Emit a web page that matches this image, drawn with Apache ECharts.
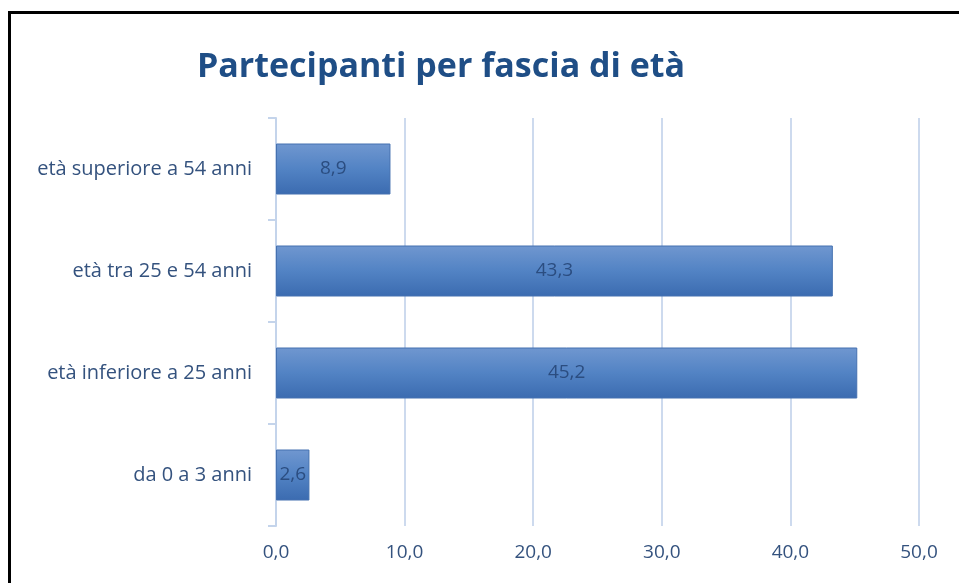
<!DOCTYPE html>
<html>
<head>
<meta charset="utf-8">
<title>Partecipanti per fascia di età</title>
<script src="https://cdn.jsdelivr.net/npm/echarts@6/dist/echarts.min.js"></script>
<style>
    html, body { margin: 0; padding: 0; background: #fff; }
    #frame {
        position: absolute;
        left: 8px;
        top: 11px;
        width: 951px;
        height: 572px;
        border-left: 3px solid #000;
        border-top: 3px solid #000;
    }
    #chart { position: absolute; left: 0; top: 0; width: 959px; height: 583px; }
</style>
</head>
<body>
<div id="frame"></div>
<div id="chart"></div>
<script>
'use strict';

var categories = ['da 0 a 3 anni', 'età inferiore a 25 anni', 'età tra 25 e 54 anni', 'età superiore a 54 anni'];
var values = [2.6, 45.2, 43.3, 8.9];
var xTicks = [0, 10, 20, 30, 40, 50];

var textColor = '#34527e';
var fontFamily = '"Open Sans", "Noto Sans", sans-serif';

function comma(v) {
    return Number(v).toFixed(1).replace('.', ',');
}

var myChart = echarts.init(document.getElementById('chart'), null, { renderer: 'canvas' });

var option = {
    animation: false,
    title: {
        text: 'Partecipanti per fascia di età',
        left: 436,
        top: 45,
        textAlign: 'center',
        textStyle: {
            color: '#1f4e86',
            fontSize: 34,
            fontWeight: 'bold',
            fontFamily: fontFamily
        }
    },
    grid: {
        left: 276,
        right: 40,
        top: 118,
        bottom: 57,
        containLabel: false
    },
    xAxis: {
        type: 'value',
        min: xTicks[0],
        max: xTicks[xTicks.length - 1],
        interval: 10,
        axisLine: { show: false },
        axisTick: { show: false },
        splitLine: {
            show: true,
            lineStyle: { color: '#cddaee', width: 2 }
        },
        axisLabel: {
            margin: 17,
            color: textColor,
            fontSize: 19,
            fontFamily: fontFamily,
            formatter: function(v) { return comma(v); }
        }
    },
    yAxis: {
        type: 'category',
        data: categories,
        axisLine: {
            show: true,
            lineStyle: { color: '#c4d4eb', width: 2 }
        },
        axisTick: {
            show: true,
            length: 8,
            lineStyle: { color: '#c4d4eb', width: 2 }
        },
        axisLabel: {
            margin: 24,
            color: textColor,
            fontSize: 20,
            fontFamily: fontFamily
        }
    },
    series: [{
        type: 'bar',
        data: values,
        barWidth: '50%',
        itemStyle: {
            color: new echarts.graphic.LinearGradient(0, 0, 0, 1, [
                { offset: 0, color: '#7097d0' },
                { offset: 0.5, color: '#5283c4' },
                { offset: 1, color: '#3b6bb0' }
            ]),
            borderColor: '#4571b0',
            borderWidth: 1
        },
        label: {
            show: true,
            position: 'inside',
            color: '#2b4d80',
            fontSize: 19,
            fontFamily: fontFamily,
            formatter: function(p) { return comma(p.value); }
        }
    }]
};

myChart.setOption(option);
</script>
</body>
</html>
